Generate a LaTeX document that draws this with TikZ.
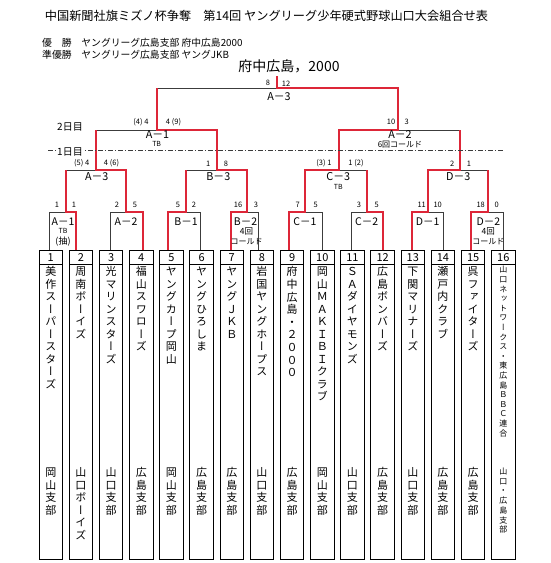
\documentclass[tikz,border=0pt]{standalone}
\usepackage{fontspec}
\setmainfont{Noto Sans CJK JP}
\newfontfamily\jpv[RawFeature=+vert]{Noto Sans CJK JP}
\definecolor{redline}{RGB}{221,38,56}
\definecolor{grayline}{RGB}{60,60,60}
\newcommand\teamcol[6]{%
  \foreach \c [count=\k from 0] in {#6} {%
    \node[font=\jpv\fontsize{#5}{#5}\selectfont, inner sep=0pt, anchor=base] (#1-\k) at (#2, #3+\k*#4+0.36*#5) {\c};%
  }%
}
\begin{document}
\begin{tikzpicture}[x=1pt,y=-1pt,
  bk/.style={draw=grayline,line width=0.75pt},
  rd/.style={draw=redline,line width=2.4pt,line join=miter},
  teambox/.style={draw=black,line width=0.9pt,minimum width=23.5pt,minimum height=309pt,inner sep=0pt,outer sep=0pt},
  numlbl/.style={font=\fontsize{11}{11}\selectfont,inner sep=0pt},
  score/.style={font=\fontsize{7.5}{7.5}\selectfont,inner sep=0pt},
  mlbl/.style={font=\fontsize{10.8}{10.8}\selectfont,inner sep=0pt},
  slbl/.style={font=\fontsize{10.5}{10.5}\selectfont,inner sep=0pt},
  tblbl/.style={font=\fontsize{7}{7}\selectfont,inner sep=0pt},
  notelbl/.style={font=\fontsize{8}{8}\selectfont,inner sep=0pt},
  daylbl/.style={font=\fontsize{10}{10}\selectfont,inner sep=1pt},
  dashdotline/.style={draw=grayline,line width=0.6pt,dash pattern=on 5pt off 2pt on 1pt off 2pt}
]
\useasboundingbox (0,0) rectangle (551,563);

% ---------- headings ----------
\node[font=\fontsize{12.2}{12.2}\selectfont,inner sep=0pt] (title) at (266.5,16) {中国新聞社旗ミズノ杯争奪　第14回 ヤングリーグ少年硬式野球山口大会組合せ表};
\node[font=\fontsize{9.8}{9.8}\selectfont,inner sep=0pt,anchor=west] (win1) at (42,42.5) {優　勝　ヤングリーグ広島支部 府中広島2000};
\node[font=\fontsize{9.8}{9.8}\selectfont,inner sep=0pt,anchor=west] (win2) at (42,54.5) {準優勝　ヤングリーグ広島支部 ヤングJKB};
\node[font=\fontsize{14}{14}\selectfont,inner sep=0pt] (champ) at (289,66) {府中広島，2000};

% ---------- team boxes ----------
\foreach \i in {1,...,16} {
  \node[teambox] (t\i) at ({50.75+(\i-1)*30.17},404.5) {};
  \draw[draw=black,line width=0.9pt] ([yshift=-14pt]t\i.north west) -- ([yshift=-14pt]t\i.north east);
  \node[numlbl] (num\i) at ({50.75+(\i-1)*30.17},257.3) {\i};
}

% ---------- team names ----------
\teamcol{na1}{50.75}{272}{12.5}{11}{美,作,ス,ー,パ,ー,ス,タ,ー,ズ}
\teamcol{na2}{80.92}{272}{12.5}{11}{周,南,ボ,ー,イ,ズ}
\teamcol{na3}{111.09}{272}{12.5}{11}{光,マ,リ,ン,ス,タ,ー,ズ}
\teamcol{na4}{141.26}{272}{12.5}{11}{福,山,ス,ワ,ロ,ー,ズ}
\teamcol{na5}{171.43}{272}{12.5}{11}{ヤ,ン,グ,カ,ー,プ,岡,山}
\teamcol{na6}{201.60}{272}{12.5}{11}{ヤ,ン,グ,ひ,ろ,し,ま}
\teamcol{na7}{231.77}{272}{12.5}{11}{ヤ,ン,グ,Ｊ,Ｋ,Ｂ}
\teamcol{na8}{261.94}{272}{12.5}{11}{岩,国,ヤ,ン,グ,ホ,ー,プ,ス}
\teamcol{na9}{292.11}{272}{12.6}{11}{府,中,広,島,・,２,０,０,０}
\teamcol{na10}{322.28}{272}{12.5}{11}{岡,山,Ｍ,Ａ,Ｋ,Ｉ,Ｂ,Ｉ,ク,ラ,ブ}
\teamcol{na11}{352.45}{272}{12.5}{11}{Ｓ,Ａ,ダ,イ,ヤ,モ,ン,ズ}
\teamcol{na12}{382.62}{272}{12.5}{11}{広,島,ボ,ン,バ,ー,ズ}
\teamcol{na13}{412.79}{272}{12.5}{11}{下,関,マ,リ,ナ,ー,ズ}
\teamcol{na14}{442.96}{272}{12.5}{11}{瀬,戸,内,ク,ラ,ブ}
\teamcol{na15}{473.13}{272}{12.5}{11}{呉,フ,ァ,イ,タ,ー,ズ}
\teamcol{na16}{503.30}{270}{9.6}{8}{山,口,ネ,ッ,ト,ワ,ー,ク,ス,・,東,広,島,Ｂ,Ｂ,Ｃ,連,合}

\teamcol{br1}{50.75}{473}{12.4}{11}{岡,山,支,部}
\teamcol{br2}{80.92}{473}{12.5}{11}{山,口,ボ,ー,イ,ズ}
\teamcol{br3}{111.09}{473}{12.4}{11}{山,口,支,部}
\teamcol{br4}{141.26}{473}{12.4}{11}{広,島,支,部}
\teamcol{br5}{171.43}{473}{12.4}{11}{岡,山,支,部}
\teamcol{br6}{201.60}{473}{12.4}{11}{広,島,支,部}
\teamcol{br7}{231.77}{473}{12.4}{11}{広,島,支,部}
\teamcol{br8}{261.94}{473}{12.4}{11}{山,口,支,部}
\teamcol{br9}{292.11}{473}{12.4}{11}{広,島,支,部}
\teamcol{br10}{322.28}{473}{12.4}{11}{岡,山,支,部}
\teamcol{br11}{352.45}{473}{12.4}{11}{山,口,支,部}
\teamcol{br12}{382.62}{473}{12.4}{11}{広,島,支,部}
\teamcol{br13}{412.79}{473}{12.4}{11}{山,口,支,部}
\teamcol{br14}{442.96}{473}{12.4}{11}{広,島,支,部}
\teamcol{br15}{473.13}{473}{12.4}{11}{広,島,支,部}
\teamcol{br16}{503.30}{471.7}{9.7}{8}{山,口,・,広,島,支,部}

% ---------- match coordinates ----------
% round 1 (y=212)
\coordinate (A1-L) at (49,212);  \coordinate (A1-M) at (66,212);  \coordinate (A1-R) at (76,212);
\coordinate (A2-L) at (110,212); \coordinate (A2-M) at (126,212); \coordinate (A2-R) at (143,212);
\coordinate (B1-L) at (168,212); \coordinate (B1-M) at (186,212); \coordinate (B1-R) at (200,212);
\coordinate (B2-L) at (231,212); \coordinate (B2-M) at (247,212); \coordinate (B2-R) at (258,212);
\coordinate (C1-L) at (289,212); \coordinate (C1-M) at (305,212); \coordinate (C1-R) at (322,212);
\coordinate (C2-L) at (351,212); \coordinate (C2-M) at (367,212); \coordinate (C2-R) at (383,212);
\coordinate (D1-L) at (412,212); \coordinate (D1-M) at (428,212); \coordinate (D1-R) at (443,212);
\coordinate (D2-L) at (471,212); \coordinate (D2-M) at (488,212); \coordinate (D2-R) at (503,212);
% round 2 (y=170)
\coordinate (A3-L) at (66,170);  \coordinate (A3-M) at (96,170);  \coordinate (A3-R) at (126,170);
\coordinate (B3-L) at (186,170); \coordinate (B3-M) at (217,170); \coordinate (B3-R) at (247,170);
\coordinate (C3-L) at (305,170); \coordinate (C3-M) at (339,170); \coordinate (C3-R) at (367,170);
\coordinate (D3-L) at (428,170); \coordinate (D3-M) at (460,170); \coordinate (D3-R) at (488,170);
% round 3 (y=130)
\coordinate (SA1-L) at (96,130);  \coordinate (SA1-M) at (157,130); \coordinate (SA1-R) at (217,130);
\coordinate (SA2-L) at (339,130); \coordinate (SA2-M) at (398,130); \coordinate (SA2-R) at (460,130);
% final (y=88)
\coordinate (F-L) at (157,88); \coordinate (F-M) at (277,88); \coordinate (F-R) at (398,88);
\coordinate (F-top) at (277,76);

% ---------- black brackets ----------
\draw[bk] (A1-L |- t1.north) -- (A1-L) -- (A1-R) -- (A1-R |- t2.north);
\draw[bk] (A2-L |- t3.north) -- (A2-L) -- (A2-R) -- (A2-R |- t4.north);
\draw[bk] (B1-L |- t5.north) -- (B1-L) -- (B1-R) -- (B1-R |- t6.north);
\draw[bk] (B2-L |- t7.north) -- (B2-L) -- (B2-R) -- (B2-R |- t8.north);
\draw[bk] (C1-L |- t9.north) -- (C1-L) -- (C1-R) -- (C1-R |- t10.north);
\draw[bk] (C2-L |- t11.north) -- (C2-L) -- (C2-R) -- (C2-R |- t12.north);
\draw[bk] (D1-L |- t13.north) -- (D1-L) -- (D1-R) -- (D1-R |- t14.north);
\draw[bk] (D2-L |- t15.north) -- (D2-L) -- (D2-R) -- (D2-R |- t16.north);
\draw[bk] (A1-M) -- (A3-L) -- (A3-R) -- (A2-M);
\draw[bk] (B1-M) -- (B3-L) -- (B3-R) -- (B2-M);
\draw[bk] (C1-M) -- (C3-L) -- (C3-R) -- (C2-M);
\draw[bk] (D1-M) -- (D3-L) -- (D3-R) -- (D2-M);
\draw[bk] (A3-M) -- (SA1-L) -- (SA1-R) -- (B3-M);
\draw[bk] (C3-M) -- (SA2-L) -- (SA2-R) -- (D3-M);
\draw[bk] (SA1-M) -- (F-L) -- (F-R) -- (SA2-M);

% ---------- red winner paths ----------
\draw[rd] (A1-R |- t2.north) -- (A1-R) -- (A1-M) -- (A3-L);
\draw[rd] (A2-R |- t4.north) -- (A2-R) -- (A2-M) -- (A3-R) -- (A3-M) -- (SA1-L);
\draw[rd] (B1-L |- t5.north) -- (B1-L) -- (B1-M) -- (B3-L);
\draw[rd] (B2-L |- t7.north) -- (B2-L) -- (B2-M) -- (B3-R) -- (B3-M) -- (SA1-R) -- (SA1-M) -- (F-L);
\draw[rd] (C1-L |- t9.north) -- (C1-L) -- (C1-M) -- (C3-L) -- (C3-M) -- (SA2-L) -- (SA2-M) -- (F-R) -- (F-M) -- (F-top);
\draw[rd] (C2-R |- t12.north) -- (C2-R) -- (C2-M) -- (C3-R);
\draw[rd] (D1-L |- t13.north) -- (D1-L) -- (D1-M) -- (D3-L) -- (D3-M) -- (SA2-R);
\draw[rd] (D2-L |- t15.north) -- (D2-L) -- (D2-M) -- (D3-R);

% ---------- day markers ----------
\coordinate (dd-start) at (48,150);
\coordinate (dd-end) at (503,150);
\draw[dashdotline] (dd-start) -- (dd-end);
\node[daylbl] (day2) at (70,127) {2日目};
\node[daylbl,fill=white] (day1) at (70,151.5) {1日目};

% ---------- round 1 scores & labels ----------
\node[score] (s1a) at (57,205) {1};   \node[score] (s1b) at (74,205) {1};
\node[score] (s2a) at (117,205) {2};  \node[score] (s2b) at (135,205) {5};
\node[score] (s3a) at (178,205) {5};  \node[score] (s3b) at (194,205) {2};
\node[score] (s4a) at (238,205) {16}; \node[score] (s4b) at (256,205) {3};
\node[score] (s5a) at (297.7,205) {7};  \node[score] (s5b) at (315.7,205) {5};
\node[score] (s6a) at (359,205) {3};    \node[score] (s6b) at (376.7,205) {5};
\node[score] (s7a) at (421.7,205) {11}; \node[score] (s7b) at (437.7,205) {10};
\node[score] (s8a) at (480.7,205) {18}; \node[score] (s8b) at (496.7,205) {0};

\node[slbl] (lA1) at (63,222) {A－1};
\node[tblbl] (lA1tb) at (63,230.5) {TB};
\node[font=\fontsize{9}{9}\selectfont,inner sep=0pt] (lA1c) at (63,241.5) {(抽)};
\node[slbl] (lA2) at (126,222) {A－2};
\node[slbl] (lB1) at (186,222) {B－1};
\node[slbl] (lB2) at (245.5,222) {B－2};
\node[font=\fontsize{8.5}{8.5}\selectfont,inner sep=0pt] (lB2a) at (246.5,231.7) {4回};
\node[font=\fontsize{8}{8}\selectfont,inner sep=0pt] (lB2b) at (246.5,241.7) {コールド};
\node[slbl] (lC1) at (305,222) {C－1};
\node[slbl] (lC2) at (366.7,222) {C－2};
\node[slbl] (lD1) at (427.7,222) {D－1};
\node[slbl] (lD2) at (488.3,222) {D－2};
\node[font=\fontsize{8.5}{8.5}\selectfont,inner sep=0pt] (lD2a) at (488.3,231.7) {4回};
\node[font=\fontsize{8}{8}\selectfont,inner sep=0pt] (lD2b) at (488.3,241.7) {コールド};

% ---------- round 2 ----------
\node[score] (r2a1) at (81.7,163.5) {(5) 4};  \node[score] (r2a2) at (111.5,163.5) {4 (6)};
\node[score] (r2b1) at (208.3,163.5) {1};     \node[score] (r2b2) at (226,163.5) {8};
\node[score] (r2c1) at (324,163.5) {(3) 1};   \node[score] (r2c2) at (356,163.5) {1 (2)};
\node[score] (r2d1) at (452.3,163.5) {2};     \node[score] (r2d2) at (469,163.5) {1};
\node[mlbl] (lA3) at (96.7,176.5) {A－3};
\node[mlbl] (lB3) at (218.3,176.5) {B－3};
\node[mlbl] (lC3) at (338.3,176.5) {C－3};
\node[tblbl] (lC3tb) at (338.3,186.5) {TB};
\node[mlbl] (lD3) at (458.3,176.5) {D－3};

% ---------- round 3 ----------
\node[score] (r3a1) at (141,122.3) {(4) 4};  \node[score] (r3a2) at (173.5,122.3) {4 (9)};
\node[score] (r3b1) at (391,122.3) {10};     \node[score] (r3b2) at (406.7,122.3) {3};
\node[mlbl] (lSA1) at (157.5,135) {A－1};
\node[tblbl] (lSA1tb) at (156.7,144) {TB};
\node[mlbl] (lSA2) at (400,135) {A－2};
\node[notelbl] (lSA2n) at (400,145) {6回コールド};

% ---------- final ----------
\node[score] (fs1) at (268,83.3) {8};
\node[score] (fs2) at (286,83.3) {12};
\node[mlbl] (lF) at (279,96.5) {A－3};
\end{tikzpicture}
\end{document}
